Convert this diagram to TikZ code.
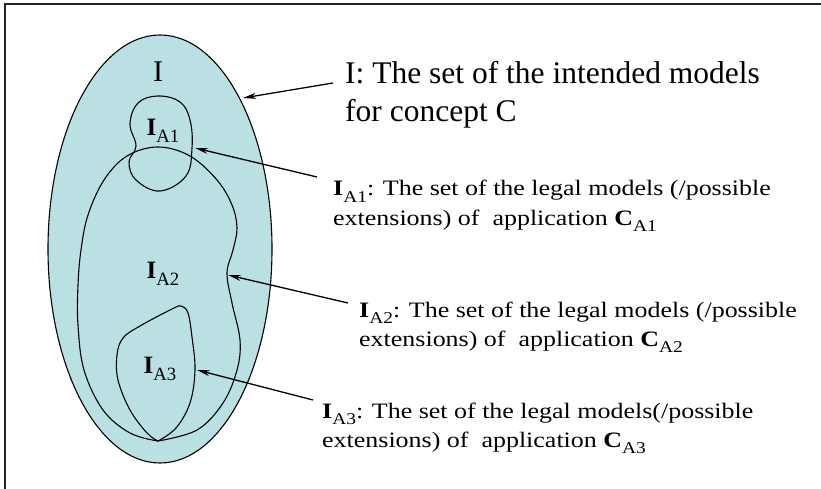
\documentclass[tikz,border=0pt]{standalone}
\usepackage{fontspec}
\setmainfont{Liberation Serif}
\newfontfamily\lblfont{Liberation Serif}[FakeStretch=1.18]
\usetikzlibrary{arrows.meta}
\definecolor{setfill}{HTML}{BBE0E3}
\definecolor{framecol}{HTML}{222222}
\newcommand\subt[1]{\raisebox{-0.3em}{\scalebox{0.75}{#1}}}
\tikzset{
  setline/.style={draw=black, line width=1.1pt},
  ptr/.style={draw=black, line width=1.3pt, -{Stealth[length=13pt,width=6pt,inset=4pt]}},
  title/.style={anchor=base west, inner sep=0pt, font=\fontsize{31.5}{36}\selectfont},
  lbl/.style={anchor=base west, inner sep=0pt, font=\lblfont\fontsize{22}{26}\selectfont},
  inlbl/.style={anchor=center, inner sep=0pt, font=\fontsize{25}{28}\selectfont},
}
\begin{document}
\begin{tikzpicture}[x=1pt,y=-1pt]
\useasboundingbox (0,0) rectangle (821,489);
\fill[white] (0,0) rectangle (821,489);
% frame (top and left only)
\draw[framecol, line width=2pt] (4.5,489) -- (4.5,4.5) -- (821,4.5);

% outer set I
\filldraw[setfill, setline] (160,249) ellipse [x radius=112, y radius=214];

% I_A1
\draw[setline] plot[smooth cycle, tension=0.65] coordinates {
 (158,96) (180,102) (190,120) (192,148) (186,176) (160,191) (136,180) (129,162) (136,146) (130,124) (138,103)};

% I_A2 (pointed at bottom)
\draw[setline] plot[smooth, tension=0.6] coordinates {
 (158,441) (197,430) (223,403) (237,370) (240,340) (232,303) (227,273) (233,250) (237,228) (232,205) (217,180) (190,156) (158,147)
 (127,156) (104,180) (88,215) (81,250) (78,285) (78,325) (84,370) (103,410) (130,433) (158,441)};

% I_A3 (pointed at bottom)
\draw[setline] plot[smooth, tension=0.6] coordinates {
 (158,441) (176,428) (190,403) (195,370) (192,337) (188,313) (181,306) (172,309) (140,326) (123,338) (117,355) (118,380) (130,410) (147,433) (158,441)};

% inner labels
\node[inlbl, font=\fontsize{30}{32}\selectfont] (lI) at (158,72) {I};
\node[inlbl] (lA1) at (163,131) {\textbf{I}\subt{A1}};
\node[inlbl] (lA2) at (163,274) {\textbf{I}\subt{A2}};
\node[inlbl] (lA3) at (160,369) {\textbf{I}\subt{A3}};

% texts
\node[title] (tIa) at (345,84) {I: The set of the intended models};
\node[title] (tIb) at (345,122) {for concept C};

\node[lbl] (tAa) at (333,196) {\textbf{I}\subt{A1}: The set of the legal models (/possible};
\node[lbl] (tAb) at (333,225) {extensions) of~ application \textbf{C}\subt{A1}};

\node[lbl] (tBa) at (359,317) {\textbf{I}\subt{A2}: The set of the legal models (/possible};
\node[lbl] (tBb) at (359,346) {extensions) of~ application \textbf{C}\subt{A2}};

\node[lbl] (tCa) at (322,418) {\textbf{I}\subt{A3}: The set of the legal models(/possible};
\node[lbl] (tCb) at (322,447) {extensions) of~ application \textbf{C}\subt{A3}};

% arrow ends
\coordinate (sI) at (333,83);  \coordinate (eI) at (243,98);
\coordinate (sA) at (317,177); \coordinate (eA) at (195,148);
\coordinate (sB) at (348,303); \coordinate (eB) at (228,275);
\coordinate (sC) at (313,400); \coordinate (eC) at (197,370);

\draw[ptr] (sI) -- (eI);
\draw[ptr] (sA) -- (eA);
\draw[ptr] (sB) -- (eB);
\draw[ptr] (sC) -- (eC);
\end{tikzpicture}
\end{document}
